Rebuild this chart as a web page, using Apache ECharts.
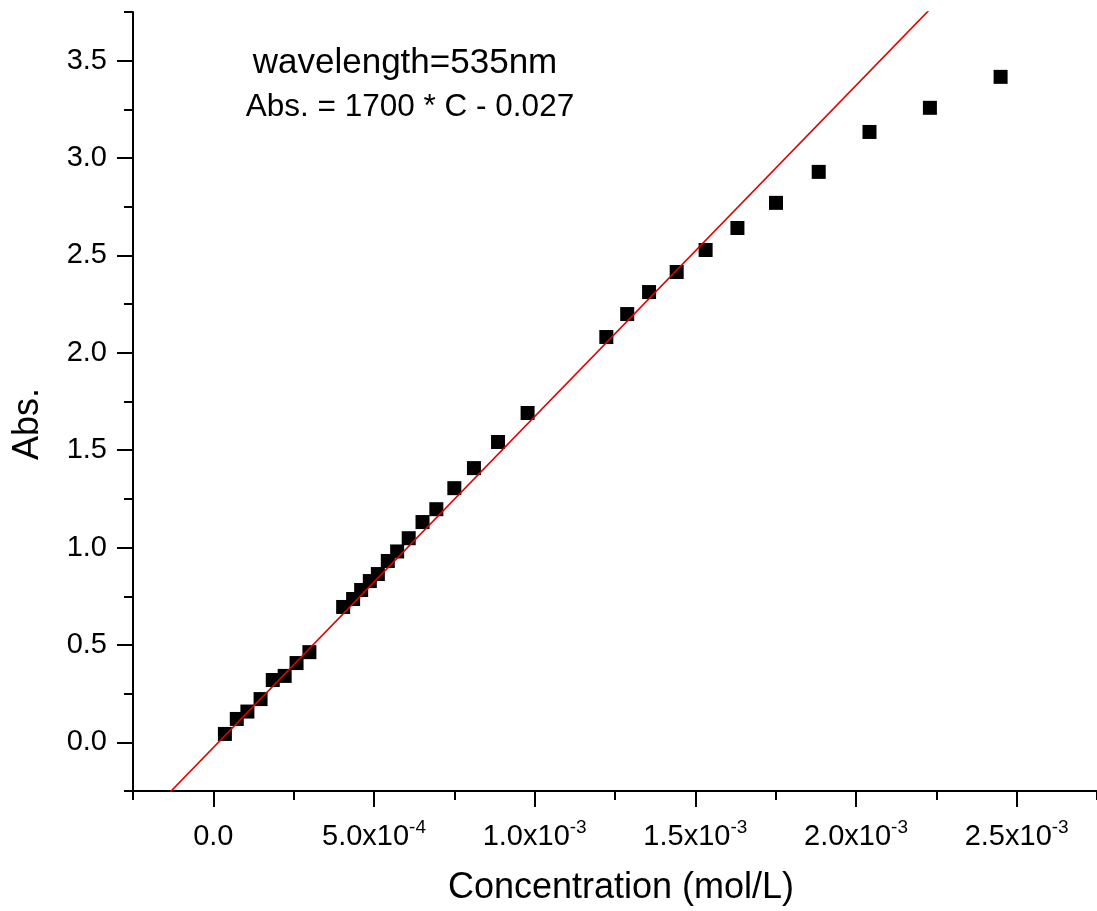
<!DOCTYPE html>
<html>
<head>
<meta charset="utf-8">
<title>Absorbance vs concentration</title>
<script src="https://cdn.jsdelivr.net/npm/echarts@6/dist/echarts.min.js"></script>
<style>
  html, body { margin: 0; padding: 0; background: #ffffff; }
  #chart { width: 1097px; height: 911px; }
</style>
</head>
<body>
<div id="chart"></div>
<script>
// Measured concentrations (mol/L) and absorbances at 535 nm
const concentration = [
  3.6e-5, 7.3e-5, 1.06e-4, 1.47e-4, 1.85e-4, 2.22e-4, 2.59e-4, 2.99e-4,
  4.04e-4, 4.35e-4, 4.60e-4, 4.87e-4, 5.12e-4, 5.43e-4, 5.72e-4, 6.08e-4,
  6.51e-4, 6.94e-4, 7.50e-4, 8.11e-4, 8.86e-4, 9.78e-4,
  1.223e-3, 1.288e-3, 1.356e-3, 1.442e-3, 1.532e-3, 1.631e-3, 1.751e-3,
  1.884e-3, 2.042e-3, 2.230e-3, 2.450e-3
];
const absorbance = [
  0.043, 0.120, 0.158, 0.222, 0.320, 0.341, 0.407, 0.463,
  0.695, 0.736, 0.782, 0.828, 0.864, 0.931, 0.980, 1.048,
  1.131, 1.197, 1.305, 1.408, 1.542, 1.691,
  2.081, 2.199, 2.312, 2.415, 2.528, 2.641, 2.770,
  2.929, 3.134, 3.258, 3.417
];

// Linear fit: Abs. = slope * C + intercept
const fitSlope = 1700;
const fitIntercept = -0.027;

// Axis ranges and ticks
const xRange = [-2.5e-4, 2.75e-3];
const yRange = [-0.25, 3.75];
const xMajorTicks = [0, 5e-4, 1e-3, 1.5e-3, 2e-3, 2.5e-3];
const xTickLabels = ['0.0', '5.0x10^-4', '1.0x10^-3', '1.5x10^-3', '2.0x10^-3', '2.5x10^-3'];
const xMinorTicks = [-2.5e-4, 2.5e-4, 7.5e-4, 1.25e-3, 1.75e-3, 2.25e-3, 2.75e-3];
const yMajorTicks = [0, 0.5, 1.0, 1.5, 2.0, 2.5, 3.0, 3.5];
const yTickLabels = ['0.0', '0.5', '1.0', '1.5', '2.0', '2.5', '3.0', '3.5'];
const yMinorTicks = [-0.25, 0.25, 0.75, 1.25, 1.75, 2.25, 2.75, 3.25, 3.75];

const FONT = '"Liberation Sans", Arial, sans-serif';

const points = concentration.map((c, i) => [c, absorbance[i]]);
const fitLine = xRange.map(c => [c, fitSlope * c + fitIntercept]);

// "5.0x10^-4" -> mantissa with a raised exponent
function xLabel(value) {
  const idx = xMajorTicks.findIndex(v => Math.abs(v - value) < 1e-9);
  if (idx < 0) return '';
  const parts = xTickLabels[idx].split('^');
  if (parts.length === 1) return '{m|' + parts[0] + '}';
  return '{m|' + parts[0] + '}{e|' + parts[1] + '}';
}
function yLabel(value) {
  const idx = yMajorTicks.findIndex(v => Math.abs(v - value) < 1e-9);
  return idx < 0 ? '' : yTickLabels[idx];
}

const axisLineStyle = { color: '#000', width: 2 };
const tickStyle = { width: 2, color: '#000' };

const chart = echarts.init(document.getElementById('chart'), null, { renderer: 'canvas' });
chart.setOption({
  backgroundColor: '#ffffff',
  animation: false,
  grid: { left: 133, right: -7, top: 12, bottom: 120, containLabel: false },
  xAxis: [
    {
      type: 'value', min: xRange[0], max: xRange[1],
      axisLine: { show: true, onZero: false, lineStyle: axisLineStyle },
      axisTick: { show: true, inside: false, length: 16, lineStyle: tickStyle, customValues: xMajorTicks },
      axisLabel: {
        show: true, margin: 27, customValues: xMajorTicks, formatter: xLabel,
        rich: {
          m: { fontFamily: FONT, fontSize: 29, color: '#000', lineHeight: 33, verticalAlign: 'bottom' },
          e: { fontFamily: FONT, fontSize: 19, color: '#000', lineHeight: 19, verticalAlign: 'top' }
        }
      },
      splitLine: { show: false }
    },
    {
      type: 'value', min: xRange[0], max: xRange[1], position: 'bottom',
      axisLine: { show: false, onZero: false },
      axisTick: { show: true, inside: false, length: 9, lineStyle: tickStyle, customValues: xMinorTicks },
      axisLabel: { show: false },
      splitLine: { show: false }
    }
  ],
  yAxis: [
    {
      type: 'value', min: yRange[0], max: yRange[1],
      axisLine: { show: true, onZero: false, lineStyle: axisLineStyle },
      axisTick: { show: true, inside: false, length: 16, lineStyle: tickStyle, customValues: yMajorTicks },
      axisLabel: {
        show: true, margin: 26, customValues: yMajorTicks, formatter: yLabel,
        fontFamily: FONT, fontSize: 29, color: '#000'
      },
      splitLine: { show: false }
    },
    {
      type: 'value', min: yRange[0], max: yRange[1], position: 'left',
      axisLine: { show: false, onZero: false },
      axisTick: { show: true, inside: false, length: 9, lineStyle: tickStyle, customValues: yMinorTicks },
      axisLabel: { show: false },
      splitLine: { show: false }
    }
  ],
  series: [
    {
      name: 'Fit', type: 'line', data: fitLine, xAxisIndex: 0, yAxisIndex: 0,
      showSymbol: false, symbol: 'none', clip: true,
      lineStyle: { color: '#e00000', width: 1.6 }, z: 3
    },
    {
      name: 'Abs.', type: 'scatter', data: points, xAxisIndex: 0, yAxisIndex: 0,
      symbol: 'rect', symbolSize: 14,
      itemStyle: { color: '#000', opacity: 1 }, z: 2
    }
  ],
  graphic: [
    {
      type: 'text',
      style: {
        text: 'wavelength=535nm', x: 405, y: 63, align: 'center', verticalAlign: 'middle',
        font: '35px ' + FONT, fill: '#000'
      }
    },
    {
      type: 'text',
      style: {
        text: 'Abs. = 1700 * C - 0.027', x: 410, y: 107, align: 'center', verticalAlign: 'middle',
        font: '31.5px ' + FONT, fill: '#000'
      }
    },
    {
      type: 'text',
      style: {
        text: 'Concentration (mol/L)', x: 621, y: 888, align: 'center', verticalAlign: 'middle',
        font: '36px ' + FONT, fill: '#000'
      }
    },
    {
      type: 'text', x: 28, y: 424, rotation: Math.PI / 2,
      style: {
        text: 'Abs.', x: 0, y: 0, align: 'center', verticalAlign: 'middle',
        font: '36px ' + FONT, fill: '#000'
      }
    }
  ]
});
</script>
</body>
</html>
